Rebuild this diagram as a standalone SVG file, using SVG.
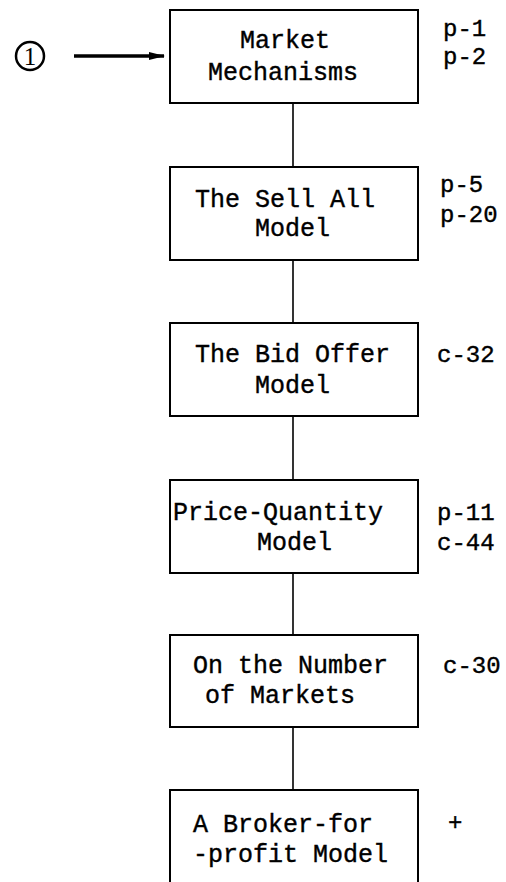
<svg xmlns="http://www.w3.org/2000/svg" width="506" height="882" viewBox="0 0 506 882">
<defs>
<style>
.box{fill:#fff;stroke:#000;stroke-width:2}
.t{font-family:"Liberation Mono","Courier New",monospace;font-size:25px;fill:#000;stroke:#000;stroke-width:0.4}
.r{font-family:"Liberation Mono","Courier New",monospace;font-size:24px;fill:#000;stroke:#000;stroke-width:0.4}
.c{stroke:#000;stroke-width:1.6;fill:none}
</style>
<marker id="ah" markerWidth="16" markerHeight="10" refX="15" refY="5" orient="auto" markerUnits="userSpaceOnUse">
<path d="M0,1 L16,5 L0,9 Z" fill="#000"/>
</marker>
</defs>
<rect width="506" height="882" fill="#fff"/>
<g id="connectors">
<line class="c" x1="293" y1="103" x2="293" y2="167"/>
<line class="c" x1="293" y1="260" x2="293" y2="323"/>
<line class="c" x1="293" y1="416" x2="293" y2="480"/>
<line class="c" x1="293" y1="573" x2="293" y2="635"/>
<line class="c" x1="293" y1="727" x2="293" y2="790"/>
<line x1="74" y1="56" x2="164" y2="56" stroke="#000" stroke-width="3.5" marker-end="url(#ah)"/>
</g>
<g id="start">
<circle cx="30" cy="56" r="14" fill="none" stroke="#000" stroke-width="2.5"/>
<text x="30" y="65" text-anchor="middle" font-family="Liberation Serif,serif" font-size="25" fill="#000">1</text>
</g>
<g id="n1">
<rect class="box" x="170" y="10" width="248" height="93"/>
<text class="t" x="240" y="48">Market</text>
<text class="t" x="208" y="80">Mechanisms</text>
<text class="r" x="443" y="36">p-1</text>
<text class="r" x="443" y="64">p-2</text>
</g>
<g id="n2">
<rect class="box" x="170" y="167" width="248" height="93"/>
<text class="t" x="195" y="207">The Sell All</text>
<text class="t" x="255" y="236">Model</text>
<text class="r" x="440" y="192">p-5</text>
<text class="r" x="440" y="222">p-20</text>
</g>
<g id="n3">
<rect class="box" x="170" y="323" width="248" height="93"/>
<text class="t" x="195" y="362">The Bid Offer</text>
<text class="t" x="255" y="393">Model</text>
<text class="r" x="437" y="362">c-32</text>
</g>
<g id="n4">
<rect class="box" x="170" y="480" width="248" height="93"/>
<text class="t" x="173" y="520">Price-Quantity</text>
<text class="t" x="257" y="550">Model</text>
<text class="r" x="437" y="520">p-11</text>
<text class="r" x="437" y="550">c-44</text>
</g>
<g id="n5">
<rect class="box" x="170" y="635" width="248" height="92"/>
<text class="t" x="193" y="673">On the Number</text>
<text class="t" x="205" y="703">of Markets</text>
<text class="r" x="443" y="673">c-30</text>
</g>
<g id="n6">
<rect class="box" x="170" y="790" width="248" height="120"/>
<text class="t" x="193" y="832">A Broker-for</text>
<text class="t" x="193" y="862">-profit Model</text>
<text class="r" x="448" y="830">+</text>
</g>
</svg>
